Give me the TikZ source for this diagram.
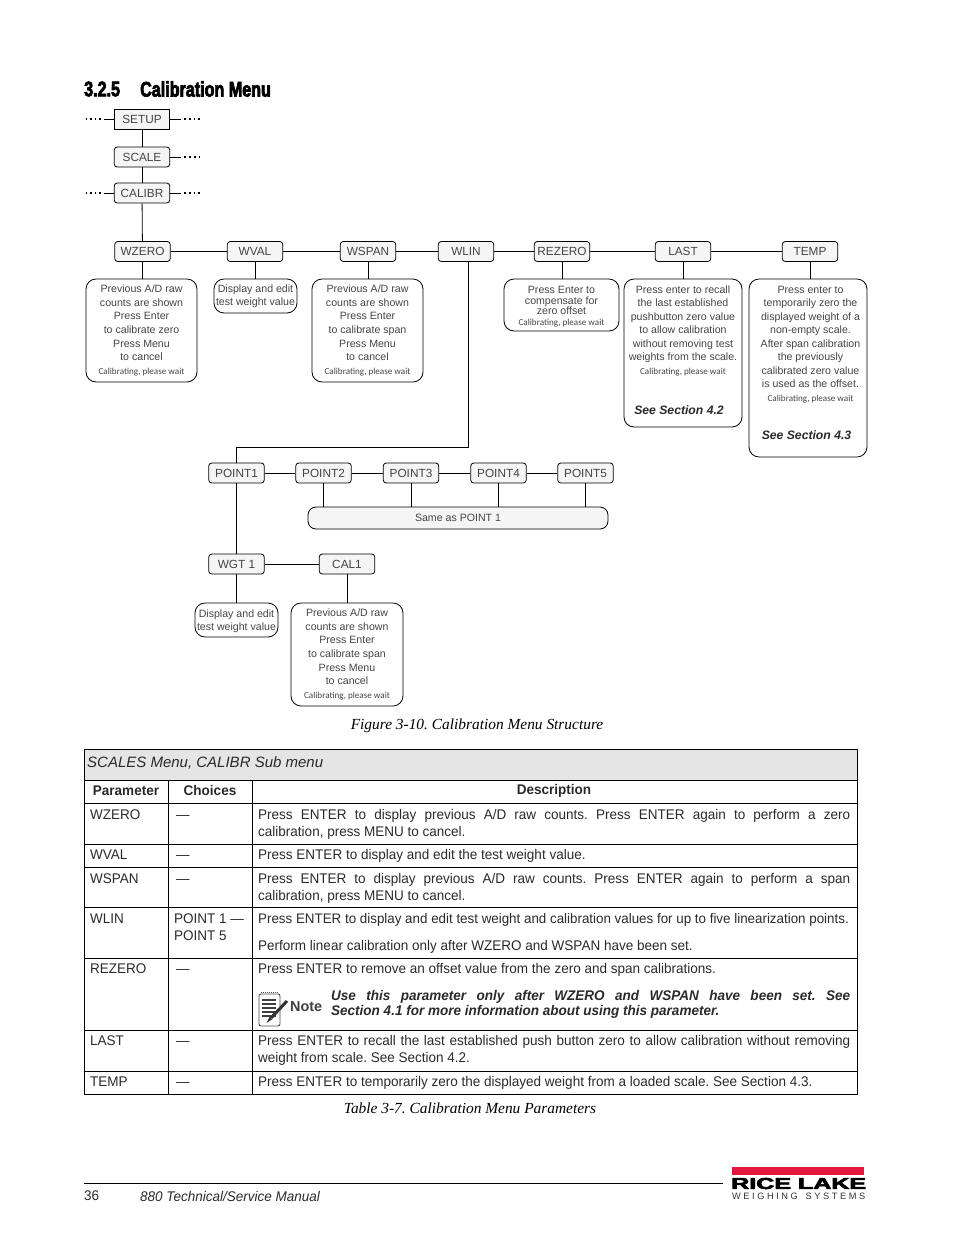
\documentclass[tikz,border=0pt]{standalone}
\usepackage{fontspec}
\usepackage{graphicx}
\usetikzlibrary{calc}
\setmainfont{Liberation Sans}
\newfontfamily\capfont{Liberation Serif}
\newfontfamily\smallfont{Carlito}
\newfontfamily\cellfont[FakeStretch=0.965]{Liberation Sans}
\newfontfamily\headfont[BoldFeatures={FakeStretch=0.76,FakeBold=3.2}]{Liberation Sans}
\newfontfamily\logofont[BoldFeatures={FakeBold=3.5}]{Liberation Sans}
\definecolor{boxtext}{HTML}{444444}
\definecolor{celltext}{HTML}{2A2A2A}
\definecolor{logored}{HTML}{E5173C}
\frenchspacing
\tikzset{
  menubox/.style={draw,rounded corners=3pt,fill=black!4,line width=0.8pt,inner sep=0pt,
    minimum width=55.5pt,minimum height=20pt,text=boxtext,font=\fontsize{11.8}{14}\selectfont},
  infobox/.style={draw,rounded corners=10pt,line width=0.8pt,inner sep=0pt,align=center,
    text=boxtext,font=\fontsize{10.6}{13.7}\selectfont},
  boxlines/.style={anchor=north,inner sep=0pt,align=center,text=boxtext,font=\fontsize{10.6}{13.5}\selectfont},
  seenote/.style={inner sep=0pt,text=boxtext!60!black,font=\fontsize{12.2}{14}\selectfont\bfseries\itshape},
  link/.style={line width=0.8pt},
  dotrow/.style={line width=1.6pt,dash pattern=on 1.8pt off 3pt},
  cell/.style={anchor=north west,inner sep=0pt,text=celltext,font=\cellfont\fontsize{14}{17}\selectfont},
  wide/.style={cell,text width=592pt,align=justify},
  caption/.style={inner sep=0pt,font=\capfont\itshape\fontsize{15.4}{17}\selectfont}
}
\newcommand{\waitnote}{{\smallfont\fontsize{9.1}{12}\selectfont Calibrating, please wait}}
\begin{document}
\begin{tikzpicture}[x=1pt,y=-1pt]
\useasboundingbox (0,0) rectangle (954,1235);

% draw heading
\node[anchor=west,inner sep=0pt,font=\headfont\bfseries\fontsize{21.2}{23}\selectfont] (secnum) at (84,89) {3.2.5};
\node[anchor=west,inner sep=0pt,font=\headfont\bfseries\fontsize{21.2}{23}\selectfont] (sectitle) at (140,89) {Calibration Menu};

% draw menu boxes
\node[menubox,sharp corners] (SETUP) at (142,119) {SETUP};
\foreach \name/\cx/\cy/\lab in {SCALE/142/157/SCALE,CALIBR/142/193/CALIBR,WZERO/142.5/251.5/WZERO,
  WVAL/255/251.5/WVAL,WSPAN/368/251.5/WSPAN,WLIN/466/251.5/WLIN,REZERO/562/251.5/REZERO,
  LAST/683/251.5/LAST,TEMP/810/251.5/TEMP,POINTa/236.5/473/POINT1,POINTb/323.5/473/POINT2,
  POINTc/411/473/POINT3,POINTd/498.5/473/POINT4,POINTe/585.5/473/POINT5,
  WGT/236.5/564/WGT 1,CAL/347/564/CAL1}
{
\node[menubox] (\name) at (\cx,\cy) {\lab};
}
\node[menubox,minimum width=300pt,minimum height=22pt,rounded corners=8pt,font=\fontsize{10.6}{13}\selectfont] (same) at (458,518) {Same as POINT 1};

% draw text boxes
\node[infobox,minimum width=111pt,minimum height=103pt] (wzerotext) at (141.5,330.5)
  {Previous A/D raw\\counts are shown\\Press Enter\\to calibrate zero\\Press Menu\\to cancel\\\waitnote};
\node[infobox,minimum width=83pt,minimum height=34pt] (wvaltext) at (255.5,296) {};
\node[boxlines] (wvallines) at (255.5,284.5) {Display and edit\\test weight value};
\node[infobox,minimum width=111pt,minimum height=103pt] (wspantext) at (367.5,330.5)
  {Previous A/D raw\\counts are shown\\Press Enter\\to calibrate span\\Press Menu\\to cancel\\\waitnote};
\node[infobox,minimum width=115pt,minimum height=52pt] (rezerotext) at (561.5,305) {};
\node[boxlines,font=\fontsize{10.6}{10.6}\selectfont] (rezerolines) at (561.5,286)
  {Press Enter to\\compensate for\\zero offset\\\waitnote};
\node[infobox,minimum width=118pt,minimum height=148pt] (lasttext) at (683,353) {};
\node[boxlines] (lastlines) at (683,285.5)
  {Press enter to recall\\the last established\\pushbutton zero value\\to allow calibration\\without removing test\\weights from the scale.\\\waitnote};
\node[seenote] (lastsee) at (679,410) {See Section 4.2};
\node[infobox,minimum width=118pt,minimum height=178pt] (temptext) at (808,368) {};
\node[boxlines] (templines) at (810.5,285.5)
  {Press enter to\\temporarily zero the\\displayed weight of a\\non-empty scale.\\After span calibration\\the previously\\calibrated zero value\\is used as the offset.\\\waitnote};
\node[seenote] (tempsee) at (806.5,435) {See Section 4.3};
\node[infobox,minimum width=83pt,minimum height=34pt] (wgttext) at (236.5,620) {};
\node[boxlines,font=\fontsize{10.6}{12.5}\selectfont] (wgtlines) at (236.5,610) {Display and edit\\test weight value};
\node[infobox,minimum width=112pt,minimum height=103pt] (caltext) at (347,654.5)
  {Previous A/D raw\\counts are shown\\Press Enter\\to calibrate span\\Press Menu\\to cancel\\\waitnote};

% draw connectors
\draw[link] (SETUP) -- (SCALE);
\draw[link] (SCALE) -- (CALIBR);
\draw[link] (CALIBR) -- (WZERO);
\draw[link] (WZERO) -- (WVAL);
\draw[link] (WVAL) -- (WSPAN);
\draw[link] (WSPAN) -- (WLIN);
\draw[link] (WLIN) -- (REZERO);
\draw[link] (REZERO) -- (LAST);
\draw[link] (LAST) -- (TEMP);
\foreach \from/\to in {WZERO/wzerotext,WVAL/wvaltext,WSPAN/wspantext,REZERO/rezerotext,
  LAST/lasttext,TEMP/temptext,WGT/wgttext,CAL/caltext}
{
\draw[link] (\from) -- (\from |- \to.north);
}
\coordinate (wlindrop) at (468,251.5);
\coordinate (wlincorner) at (468,447);
\draw[link] (wlindrop |- WLIN.south) -- (wlincorner) -- (wlincorner -| POINTa) -- (POINTa);
\draw[link] (POINTa) -- (POINTb);
\draw[link] (POINTb) -- (POINTc);
\draw[link] (POINTc) -- (POINTd);
\draw[link] (POINTd) -- (POINTe);
\foreach \from in {POINTb,POINTc,POINTd,POINTe}
{
\draw[link] (\from) -- (\from |- same.north);
}
\draw[link] (POINTa) -- (WGT);
\draw[link] (WGT) -- (CAL);

% draw dotted stubs
\foreach \from/\near/\far in {SETUP/104/86,SETUP/181/200,SCALE/181/201,CALIBR/104/86,CALIBR/181/200}
{
\coordinate (stub) at (\near,0);
\coordinate (stubend) at (\far,0);
\draw[link] (\from) -- (stub |- \from);
\draw[dotrow] ($(stub |- \from)!0.16!(stubend |- \from)$) -- (stubend |- \from);
}

% draw figure caption
\node[caption] (figcap) at (477,725.5) {Figure 3-10. Calibration Menu Structure};

% draw table
\fill[black!10] (84,749) rectangle (857,780);
\draw[link] (84,749) rectangle (857,1094);
\foreach \y in {780,803,844,867,907,958,1030,1071}
{
\draw[link] (84,\y) -- (857,\y);
}
\draw[link] (168,780) -- (168,1094);
\draw[link] (252,780) -- (252,1094);

% draw table header
\node[cell,anchor=west,font=\fontsize{15}{17}\selectfont\itshape] (tabhead) at (87,763) {SCALES Menu, CALIBR Sub menu};
\node[cell,anchor=center,font=\cellfont\fontsize{14}{17}\selectfont\bfseries] (colparam) at (126,790.5) {Parameter};
\node[cell,anchor=center,font=\cellfont\fontsize{14}{17}\selectfont\bfseries] (colchoice) at (210,790.5) {Choices};
\node[cell,anchor=center,font=\cellfont\fontsize{14}{17}\selectfont\bfseries] (coldesc) at (554,790.5) {Description};

% draw first two columns
\foreach \name/\y/\lab in {rowa/810/WZERO,rowb/850/WVAL,rowc/874/WSPAN,rowe/964/REZERO,
  rowf/1036/LAST,rowg/1077/TEMP}
{
\node[cell] (\name) at (90,\y) {\lab};
\node[cell] (\name c) at (176,\y) {\vphantom{P}—};
}
\node[cell] (rowd) at (90,914) {WLIN};
\node[cell,align=left] (rowdc) at (174,914) {POINT 1 —\\POINT 5};

% draw description column
\node[wide] (desca) at (258,809) {Press ENTER to display previous A/D raw counts. Press ENTER again to perform a zero\linebreak calibration, press MENU to cancel.};
\node[cell] (descb) at (258,849) {Press ENTER to display and edit the test weight value.};
\node[wide] (descc) at (258,873) {Press ENTER to display previous A/D raw counts. Press ENTER again to perform a span\linebreak calibration, press MENU to cancel.};
\node[cell,font=\cellfont\fontsize{13.85}{17}\selectfont] (descd) at (258,913) {Press ENTER to display and edit test weight and calibration values for up to five linearization points.};
\node[cell] (descdd) at (258,940) {Perform linear calibration only after WZERO and WSPAN have been set.};
\node[cell] (desce) at (258,963) {Press ENTER to remove an offset value from the zero and span calibrations.};
\node[wide] (descf) at (258,1035) {Press ENTER to recall the last established push button zero to allow calibration without removing\linebreak weight from scale. See Section 4.2.};
\node[cell] (descg) at (258,1076) {Press ENTER to temporarily zero the displayed weight from a loaded scale. See Section 4.3.};

% draw note
\draw[line width=0.9pt,black!70,rounded corners=2pt,fill=white] (259,994) rectangle (280,1026);
\draw[line width=1.2pt,black!70,dash pattern=on 1pt off 1pt] (261,992.5) -- (279,992.5);
\foreach \y in {1000,1004,1008,1012,1016}
{
\draw[line width=1.2pt,black!75] (262,\y) -- (276,\y);
}
\draw[line width=3pt,black!80] (287,1001) -- (271,1018);
\fill[black!80] (272.2,1019.2) -- (269.6,1016.8) -- (266.5,1023) -- cycle;
\node[anchor=west,inner sep=0pt,font=\fontsize{14.4}{16}\selectfont\bfseries,text=black!75] (notelabel) at (290,1007) {Note};
\node[cell,text width=519pt,align=justify,font=\cellfont\fontsize{14}{15.2}\selectfont\bfseries\itshape] (notetext) at (331,990)
  {Use this parameter only after WZERO and WSPAN have been set. See\linebreak Section 4.1 for more information about using this parameter.};

% draw table caption
\node[caption] (tabcap) at (470,1108) {Table 3-7. Calibration Menu Parameters};

% draw footer
\coordinate (footl) at (84,1183.5);
\coordinate (footr) at (723,1183.5);
\draw[line width=0.7pt] (footl) -- (footr);
\node[cell,anchor=west] (pagenum) at (84,1196) {36};
\node[cell,anchor=west,font=\cellfont\fontsize{14}{17}\selectfont\itshape] (manual) at (140,1196) {880 Technical/Service Manual};

% draw logo
\fill[logored] (732,1167) rectangle (864,1175);
\node[inner sep=0pt,anchor=west] (logoname) at (731,1183.5) {\resizebox{135pt}{11pt}{\logofont\bfseries RICE LAKE}};
\node[inner sep=0pt,anchor=west,text=black!80] (logosub) at (732,1196) {\resizebox{133pt}{!}{W E I G H I N G\ \ \ S Y S T E M S}};
\end{tikzpicture}
\end{document}
